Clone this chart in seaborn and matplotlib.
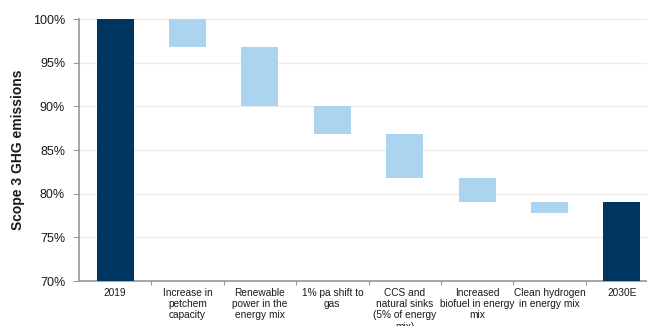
import numpy as np
import matplotlib
matplotlib.use("Agg")
import matplotlib.pyplot as plt
from matplotlib.ticker import FixedLocator, PercentFormatter
import seaborn as sns

sns.set_theme(style="white")
plt.rcParams['font.family'] = ['Liberation Sans', 'DejaVu Sans']

# waterfall steps, values in % of 2019 scope 3 emissions
categories = ["2019", "Increase in\npetchem\ncapacity", "Renewable\npower in the\nenergy mix",
              "1% pa shift to\ngas", "CCS and\nnatural sinks\n(5% of energy\nmix)",
              "Increased\nbiofuel in energy\nmix", "Clean hydrogen\nin energy mix", "2030E"]
bar_top = [100.0, 100.0, 96.8, 90.0, 86.8, 81.8, 79.0, 79.0]
bar_bottom = [70.0, 96.8, 90.0, 86.8, 81.8, 79.0, 77.8, 70.0]
is_total = [True, False, False, False, False, False, False, True]

dark = "#00355f"
light = "#acd3f0"

heights = np.array(bar_top) - np.array(bar_bottom)

fig = plt.figure(figsize=(6.47, 3.26), dpi=100)
ax = fig.add_axes([79 / 647, 1 - 281 / 326, 579 / 647, 262 / 326])

sns.barplot(x=categories, y=heights, bottom=bar_bottom, color=light, width=0.51,
            linewidth=0, ax=ax, zorder=3)
for patch, tot in zip(ax.patches, is_total):
    patch.set_facecolor(dark if tot else light)

ax.set_ylim(70, 100)
ax.set_xlim(-0.5, 7.5)
ax.yaxis.set_major_locator(FixedLocator(np.arange(70, 101, 5)))
ax.yaxis.set_major_formatter(PercentFormatter(decimals=0))
ax.grid(axis="y", color="#ececec", linewidth=1, zorder=0)
ax.set_axisbelow(True)

for s in ["top", "right"]:
    ax.spines[s].set_visible(False)
ax.spines["left"].set_color("#9a9a9a")
ax.spines["bottom"].set_color("#9a9a9a")

ax.tick_params(axis="y", which="major", direction="out", length=4, width=0.8,
               color="#9a9a9a", labelsize=9, labelcolor="#1a1a1a", pad=6, left=True)
ax.tick_params(axis="x", which="major", length=0, labelsize=7.3, labelcolor="#1a1a1a", pad=5)
ax.xaxis.set_minor_locator(FixedLocator(np.arange(0.5, 7.0, 1)))
ax.tick_params(axis="x", which="minor", direction="out", length=3, width=0.8,
               color="#9a9a9a", bottom=True)
for lbl in ax.get_xticklabels():
    lbl.set_linespacing(1.15)

ax.set_xlabel("")
ax.set_ylabel("Scope 3 GHG emissions", fontsize=10, fontweight="bold", color="#1a1a1a", labelpad=6)

fig.savefig("out.png", dpi=100)
